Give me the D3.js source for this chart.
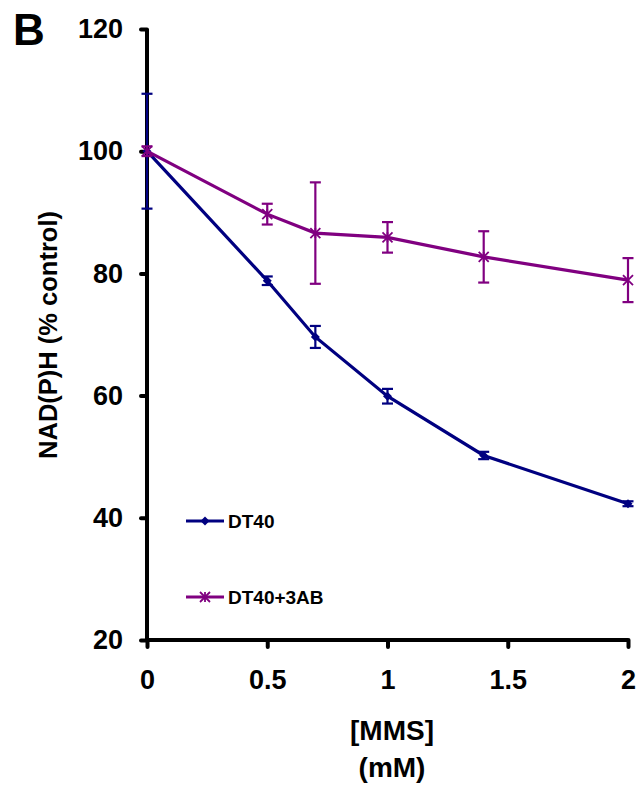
<!DOCTYPE html>
<html>
<head>
<meta charset="utf-8">
<script src="https://cdn.jsdelivr.net/npm/d3@7"></script>
<style>
  html, body { margin: 0; padding: 0; background: #fff; }
  svg { display: block; font-family: "Liberation Sans", Arial, sans-serif; }
</style>
</head>
<body>
<script>
const doses = [0, 0.5, 0.7, 1, 1.4, 2];
const dt40 = [100, 78.8, 69.6, 59.9, 50.2, 42.3];
const dt40Err = [9.4, 0.7, 1.8, 1.2, 0.6, 0.4];
const dt40ab = [100, 89.7, 86.6, 85.9, 82.7, 78.9];
const dt40abErr = [0.8, 1.7, 8.3, 2.5, 4.2, 3.6];
const xTicks = [0, 0.5, 1, 1.5, 2];
const yTicks = [20, 40, 60, 80, 100, 120];
const seriesNames = ["DT40", "DT40+3AB"];

const W = 639, H = 790;
const svg = d3.select("body").append("svg").attr("width", W).attr("height", H);

const x = d3.scaleLinear().domain([0, 2]).range([147, 628]);
const y = d3.scaleLinear().domain([20, 120]).range([640, 29]);

// panel label
svg.append("text").attr("x", 13).attr("y", 45).attr("font-size", 44).attr("font-weight", "bold").text("B");

// axes
const xAxis = svg.append("g").attr("transform", "translate(0,640)")
  .call(d3.axisBottom(x).tickValues(xTicks).tickSize(7).tickPadding(23).tickFormat(d3.format("")));
const yAxis = svg.append("g").attr("transform", "translate(147,0)")
  .call(d3.axisLeft(y).tickValues(yTicks).tickSize(6).tickPadding(18));
[xAxis, yAxis].forEach(g => {
  g.select(".domain").attr("stroke", "#000").attr("stroke-width", 4);
  g.selectAll(".tick line").attr("stroke", "#000").attr("stroke-width", 4).attr("stroke-linecap", "round");
  g.selectAll(".tick text").attr("font-size", 27).attr("font-weight", "bold").attr("fill", "#000")
    .attr("font-family", "'Liberation Sans', Arial, sans-serif");
});
xAxis.select(".domain").attr("d", `M${x(0)},0H${x(2)}`);
yAxis.select(".domain").attr("d", `M0,${y(120)}V${y(20)}`);

// axis titles
svg.append("text").attr("transform", `translate(57,335) rotate(-90)`).attr("text-anchor", "middle")
  .attr("font-size", 25.5).attr("font-weight", "bold").text("NAD(P)H (% control)");
svg.append("text").attr("x", 392).attr("y", 740).attr("text-anchor", "middle")
  .attr("font-size", 28).attr("font-weight", "bold").text("[MMS]");
svg.append("text").attr("x", 392).attr("y", 777).attr("text-anchor", "middle")
  .attr("font-size", 28).attr("font-weight", "bold").text("(mM)");

function drawSeries(vals, errs, color, marker) {
  const pts = doses.map((d, i) => ({ x: d, y: vals[i], e: errs[i] }));
  const g = svg.append("g");
  g.append("path").datum(pts)
    .attr("d", d3.line().x(d => x(d.x)).y(d => y(d.y)))
    .attr("fill", "none").attr("stroke", color).attr("stroke-width", 3.2);
  const eb = g.selectAll(".eb").data(pts).enter().append("g");
  eb.append("line").attr("x1", d => x(d.x)).attr("x2", d => x(d.x))
    .attr("y1", d => y(d.y + d.e)).attr("y2", d => y(d.y - d.e))
    .attr("stroke", color).attr("stroke-width", 2.2);
  [1, -1].forEach(s => {
    eb.append("line").attr("x1", d => x(d.x) - 5.5).attr("x2", d => x(d.x) + 5.5)
      .attr("y1", d => y(d.y + s * d.e)).attr("y2", d => y(d.y + s * d.e))
      .attr("stroke", color).attr("stroke-width", 2.2);
  });
  pts.forEach(d => marker(g, x(d.x), y(d.y), color));
}
function diamond(g, cx, cy, color) {
  g.append("path").attr("d", `M${cx},${cy - 4.5}L${cx + 4.5},${cy}L${cx},${cy + 4.5}L${cx - 4.5},${cy}Z`)
    .attr("fill", color);
}
function star(g, cx, cy, color) {
  const r = 5;
  g.append("path").attr("d", `M${cx - r},${cy - r}L${cx + r},${cy + r}M${cx - r},${cy + r}L${cx + r},${cy - r}M${cx},${cy - r}V${cy + r}`)
    .attr("stroke", color).attr("stroke-width", 1.8).attr("fill", "none");
}

drawSeries(dt40, dt40Err, "#000080", diamond);
drawSeries(dt40ab, dt40abErr, "#800080", star);

// legend
const legend = [
  { name: seriesNames[0], color: "#000080", marker: diamond, y: 521 },
  { name: seriesNames[1], color: "#800080", marker: star, y: 597 }
];
legend.forEach(l => {
  svg.append("line").attr("x1", 186).attr("x2", 224).attr("y1", l.y).attr("y2", l.y)
    .attr("stroke", l.color).attr("stroke-width", 3.2);
  l.marker(svg, 205, l.y, l.color);
  svg.append("text").attr("x", 228).attr("y", l.y + 7).attr("font-size", 19).attr("font-weight", "bold").text(l.name);
});
</script>
</body>
</html>
